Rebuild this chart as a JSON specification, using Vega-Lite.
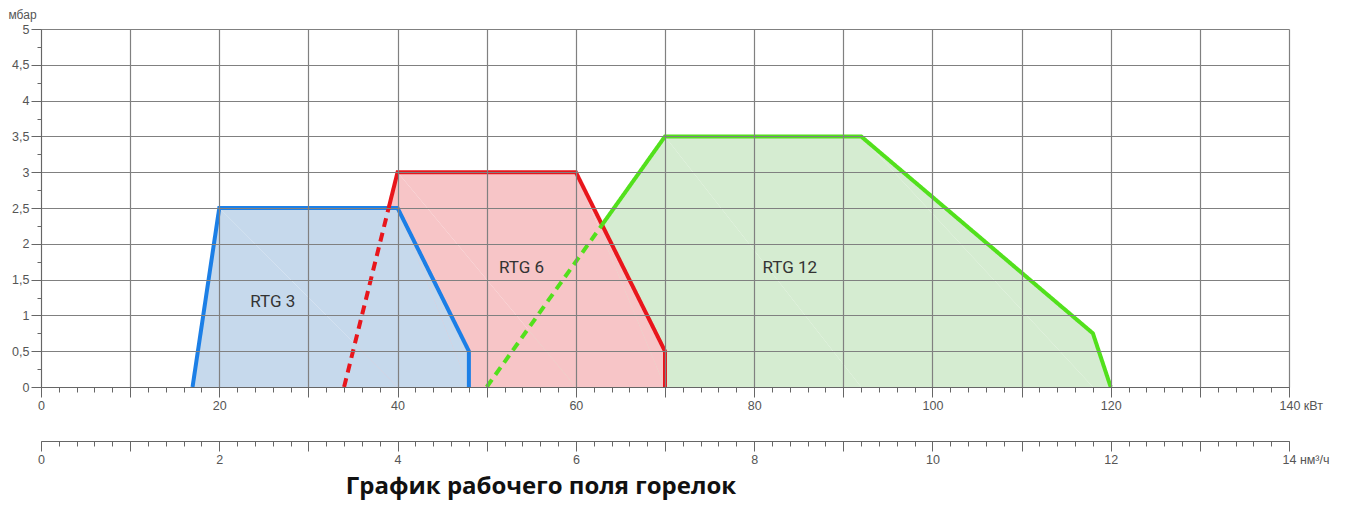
{
  "$schema": "https://vega.github.io/schema/vega-lite/v6.json",
  "width": 1248,
  "height": 358,
  "autosize": {"type": "none"},
  "padding": {"left": 41, "top": 29, "right": 57, "bottom": 119},
  "background": "white",
  "config": {
    "view": {"stroke": null},
    "axis": {"labelFont": "Liberation Sans", "labelFontSize": 12.5, "labelColor": "#555555", "titleFont": "Liberation Sans", "tickColor": "#666666", "domainColor": "#666666"}
  },
  "title": {
    "text": "График рабочего поля горелок",
    "orient": "bottom",
    "anchor": "middle",
    "font": "Open Sans",
    "fontWeight": "bold",
    "fontSize": 24,
    "color": "#111111",
    "dx": -124,
    "offset": 9
  },
  "datasets": {
    "fills": [
      {"series": "RTG 12", "kw": 50, "p": 0, "i": 1},
      {"series": "RTG 12", "kw": 70, "p": 3.5, "i": 2},
      {"series": "RTG 12", "kw": 92, "p": 3.5, "i": 3},
      {"series": "RTG 12", "kw": 118, "p": 0.75, "i": 4},
      {"series": "RTG 12", "kw": 120, "p": 0, "i": 5},
      {"series": "RTG 6", "kw": 34, "p": 0, "i": 1},
      {"series": "RTG 6", "kw": 40, "p": 3, "i": 2},
      {"series": "RTG 6", "kw": 60, "p": 3, "i": 3},
      {"series": "RTG 6", "kw": 70, "p": 0.5, "i": 4},
      {"series": "RTG 6", "kw": 70, "p": 0, "i": 5},
      {"series": "RTG 3", "kw": 17, "p": 0, "i": 1},
      {"series": "RTG 3", "kw": 20, "p": 2.5, "i": 2},
      {"series": "RTG 3", "kw": 40, "p": 2.5, "i": 3},
      {"series": "RTG 3", "kw": 48, "p": 0.5, "i": 4},
      {"series": "RTG 3", "kw": 48, "p": 0, "i": 5}
    ],
    "lines": [
      {"series": "RTG 3", "seg": "solid", "kw": 17, "p": 0, "i": 1},
      {"series": "RTG 3", "seg": "solid", "kw": 20, "p": 2.5, "i": 2},
      {"series": "RTG 3", "seg": "solid", "kw": 40, "p": 2.5, "i": 3},
      {"series": "RTG 3", "seg": "solid", "kw": 48, "p": 0.5, "i": 4},
      {"series": "RTG 3", "seg": "solid", "kw": 48, "p": 0, "i": 5},
      {"series": "RTG 6", "seg": "dashed", "kw": 34, "p": 0, "i": 1},
      {"series": "RTG 6", "seg": "dashed", "kw": 39, "p": 2.5, "i": 2},
      {"series": "RTG 6", "seg": "solid", "kw": 39, "p": 2.5, "i": 3},
      {"series": "RTG 6", "seg": "solid", "kw": 40, "p": 3, "i": 4},
      {"series": "RTG 6", "seg": "solid", "kw": 60, "p": 3, "i": 5},
      {"series": "RTG 6", "seg": "solid", "kw": 70, "p": 0.5, "i": 6},
      {"series": "RTG 6", "seg": "solid", "kw": 70, "p": 0, "i": 7},
      {"series": "RTG 12", "seg": "dashed", "kw": 50, "p": 0, "i": 1},
      {"series": "RTG 12", "seg": "dashed", "kw": 62.94, "p": 2.265, "i": 2},
      {"series": "RTG 12", "seg": "solid", "kw": 62.94, "p": 2.265, "i": 3},
      {"series": "RTG 12", "seg": "solid", "kw": 70, "p": 3.5, "i": 4},
      {"series": "RTG 12", "seg": "solid", "kw": 92, "p": 3.5, "i": 5},
      {"series": "RTG 12", "seg": "solid", "kw": 118, "p": 0.75, "i": 6},
      {"series": "RTG 12", "seg": "solid", "kw": 120, "p": 0, "i": 7}
    ],
    "labels": [
      {"label": "RTG 3", "kw": 26, "p": 1.19},
      {"label": "RTG 6", "kw": 53.9, "p": 1.66},
      {"label": "RTG 12", "kw": 84, "p": 1.66}
    ],
    "nmAxis": [
      {"nm": 0},
      {"nm": 14}
    ]
  },
  "layer": [
    {
      "data": {"name": "fills"},
      "transform": [{"filter": "datum.series == 'RTG 12'"}],
      "mark": {"type": "area", "color": "#d5ecd1", "opacity": 1},
      "encoding": {
        "x": {
          "field": "kw", "type": "quantitative",
          "scale": {"domain": [0, 140], "nice": false},
          "axis": {
            "orient": "bottom",
            "values": [0, 10, 20, 30, 40, 50, 60, 70, 80, 90, 100, 110, 120, 130, 140],
            "grid": true, "gridColor": "#808080", "gridWidth": 1.2,
            "tickSize": 10,
            "labelExpr": "datum.value % 20 == 0 ? (datum.value == 140 ? '140 кВт' : datum.label) : ''",
            "labelAlign": {"condition": {"test": "datum.value == 140", "value": "left"}, "value": "center"},
            "labelOffset": {"condition": {"test": "datum.value == 140", "value": -10}, "value": 0},
            "labelPadding": 2,
            "labelFlush": false,
            "labelOverlap": false,
            "title": null,
            "zindex": 1
          }
        },
        "y": {
          "field": "p", "type": "quantitative",
          "scale": {"domain": [0, 5], "nice": false},
          "axis": {
            "orient": "left",
            "values": [0, 0.5, 1, 1.5, 2, 2.5, 3, 3.5, 4, 4.5, 5],
            "grid": true, "gridColor": "#808080", "gridWidth": 1.2,
            "tickSize": 10,
            "labelExpr": "replace(format(datum.value, '~g'), '.', ',')",
            "labelPadding": 2,
            "labelFlush": false,
            "labelOverlap": false,
            "title": "мбар",
            "titleAngle": 0,
            "titleAlign": "left",
            "titleBaseline": "middle",
            "titleX": -33,
            "titleY": -15,
            "titleFontSize": 12,
            "titleFontWeight": "normal",
            "titleColor": "#555555",
            "zindex": 1
          }
        },
        "order": {"field": "i", "type": "quantitative"}
      }
    },
    {
      "data": {"name": "fills"},
      "transform": [{"filter": "datum.series == 'RTG 6'"}],
      "mark": {"type": "area", "color": "#f7c5c7", "opacity": 1},
      "encoding": {
        "x": {"field": "kw", "type": "quantitative", "scale": {"domain": [0, 140], "nice": false}, "axis": null},
        "y": {"field": "p", "type": "quantitative", "scale": {"domain": [0, 5], "nice": false}, "axis": null},
        "order": {"field": "i", "type": "quantitative"}
      }
    },
    {
      "data": {"name": "fills"},
      "transform": [{"filter": "datum.series == 'RTG 3'"}],
      "mark": {"type": "area", "color": "#c6d9ec", "opacity": 1},
      "encoding": {
        "x": {"field": "kw", "type": "quantitative", "scale": {"domain": [0, 140], "nice": false}, "axis": null},
        "y": {"field": "p", "type": "quantitative", "scale": {"domain": [0, 5], "nice": false}, "axis": null},
        "order": {"field": "i", "type": "quantitative"}
      }
    },
    {
      "data": {"name": "lines"},
      "mark": {"type": "line", "strokeWidth": 4, "strokeCap": "butt", "strokeJoin": "miter"},
      "encoding": {
        "x": {
          "field": "kw", "type": "quantitative", "scale": {"domain": [0, 140], "nice": false},
          "axis": {
            "orient": "bottom",
            "offset": 54,
            "values": [0, 2, 4, 6, 8, 10, 12, 14, 16, 18, 20, 22, 24, 26, 28, 30, 32, 34, 36, 38, 40, 42, 44, 46, 48, 50, 52, 54, 56, 58, 60, 62, 64, 66, 68, 70, 72, 74, 76, 78, 80, 82, 84, 86, 88, 90, 92, 94, 96, 98, 100, 102, 104, 106, 108, 110, 112, 114, 116, 118, 120, 122, 124, 126, 128, 130, 132, 134, 136, 138, 140],
            "tickSize": 5, "labels": false, "domain": false, "grid": false, "title": null
          }
        },
        "y": {"field": "p", "type": "quantitative", "scale": {"domain": [0, 5], "nice": false}, "axis": null},
        "color": {
          "field": "series", "type": "nominal",
          "scale": {"domain": ["RTG 3", "RTG 6", "RTG 12"], "range": ["#1c7fe6", "#e8161c", "#52e01c"]},
          "legend": null
        },
        "strokeDash": {
          "field": "seg", "type": "nominal",
          "scale": {"domain": ["solid", "dashed"], "range": [[1, 0], [9, 6]]},
          "legend": null
        },
        "order": {"field": "i", "type": "quantitative"}
      }
    },
    {
      "data": {"name": "labels"},
      "mark": {"type": "text", "font": "Roboto", "fontSize": 17, "color": "#333333", "align": "center", "baseline": "middle"},
      "encoding": {
        "x": {
          "field": "kw", "type": "quantitative", "scale": {"domain": [0, 140], "nice": false},
          "axis": {
            "orient": "bottom",
            "values": [0, 2, 4, 6, 8, 10, 12, 14, 16, 18, 20, 22, 24, 26, 28, 30, 32, 34, 36, 38, 40, 42, 44, 46, 48, 50, 52, 54, 56, 58, 60, 62, 64, 66, 68, 70, 72, 74, 76, 78, 80, 82, 84, 86, 88, 90, 92, 94, 96, 98, 100, 102, 104, 106, 108, 110, 112, 114, 116, 118, 120, 122, 124, 126, 128, 130, 132, 134, 136, 138, 140],
            "tickSize": 5, "labels": false, "domain": false, "grid": false, "title": null
          }
        },
        "y": {
          "field": "p", "type": "quantitative", "scale": {"domain": [0, 5], "nice": false},
          "axis": {
            "orient": "left",
            "values": [0.25, 0.75, 1.25, 1.75, 2.25, 2.75, 3.25, 3.75, 4.25, 4.75],
            "tickSize": 4, "labels": false, "domain": false, "grid": false, "title": null
          }
        },
        "text": {"field": "label", "type": "nominal"}
      }
    },
    {
      "data": {"name": "nmAxis"},
      "mark": {"type": "point", "opacity": 0},
      "encoding": {
        "x": {
          "field": "nm", "type": "quantitative", "scale": {"domain": [0, 14], "nice": false},
          "axis": {
            "orient": "bottom",
            "offset": 54,
            "values": [0, 1, 2, 3, 4, 5, 6, 7, 8, 9, 10, 11, 12, 13, 14],
            "tickSize": 10,
            "grid": false,
            "labelExpr": "datum.value % 2 == 0 ? (datum.value == 14 ? '14 нм³/ч' : datum.label) : ''",
            "labelAlign": {"condition": {"test": "datum.value == 14", "value": "left"}, "value": "center"},
            "labelOffset": {"condition": {"test": "datum.value == 14", "value": -7}, "value": 0},
            "labelPadding": 2,
            "labelFlush": false,
            "labelOverlap": false,
            "title": null
          }
        }
      }
    }
  ],
  "resolve": {
    "scale": {"x": "independent"},
    "axis": {"x": "independent", "y": "independent"}
  }
}
